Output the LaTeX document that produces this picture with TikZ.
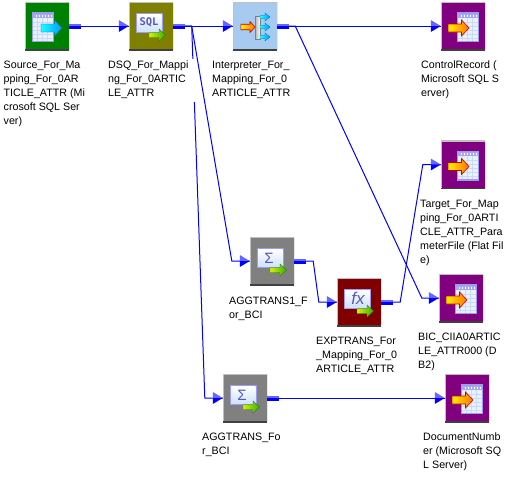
\documentclass[tikz,border=0pt]{standalone}
\usepackage{fontspec}
\setmainfont{Liberation Sans}
\newfontfamily\sqlfont{DejaVu Sans Mono}
\usetikzlibrary{calc}
\definecolor{wireblue}{HTML}{0000FF}
\definecolor{wirelite}{HTML}{6666FF}
\definecolor{pageedge}{HTML}{9C9CF0}
\definecolor{pagefill}{HTML}{E8F2FF}
\definecolor{gridc}{HTML}{C8DAF8}
\definecolor{headband}{HTML}{A8A8EC}
\definecolor{glyphc}{HTML}{5858B8}
\definecolor{panellow}{HTML}{CFE2FF}
\definecolor{greenl}{HTML}{D8F000}
\definecolor{greenr}{HTML}{38B000}
\definecolor{greend}{HTML}{208020}
\tikzset{
  tile/.style={rectangle,inner sep=0pt,minimum width=44pt,minimum height=48pt,
    path picture={
      \draw[line width=2pt,color={rgb,255:red,192;green,192;blue,192}]
        (path picture bounding box.south west)--(path picture bounding box.north west)--(path picture bounding box.north east);
      \draw[line width=2pt,color={rgb,255:red,64;green,64;blue,64}]
        (path picture bounding box.south west)--(path picture bounding box.south east);
      \draw[line width=1pt,color={rgb,255:red,64;green,64;blue,64}]
        (path picture bounding box.south east)--(path picture bounding box.north east);
    }},
  wire/.style={draw=wireblue,line width=1pt,line join=miter},
  caption/.style={anchor=north west,inner sep=0pt,align=left,
    font=\fontsize{10.7pt}{14pt}\selectfont},
  glyph/.style={inner sep=0pt,text=glyphc},
  page/.pic={
    \fill[pageedge] (-10.5,-15) rectangle (11.5,15);
    \fill[pagefill] (-9.5,-13.5) rectangle (10,13.5);
    \fill[headband] (-9.5,-13.5) rectangle (10,-9.5);
    \foreach \u in {-5,0,5} \draw[gridc,line width=.5pt] (\u,-9.5) -- (\u,13.5);
    \foreach \v in {-5,-1,3,7,11} \draw[gridc,line width=.5pt] (-9.5,\v) -- (10,\v);
    \foreach \u in {-7,-4,-1,2,5,8} \fill[white] (\u,-12.5) rectangle ++(1,2);
  },
  panel/.pic={
    \fill[pageedge] (-15,-13) rectangle (12,7);
    \shade[top color=white,bottom color=panellow] (-14,-12) rectangle (10.5,5.5);
  },
  gogreen/.pic={
    \shade[left color=greenl,right color=greenr,draw=greend,line width=.4pt]
      (-8,-2.5) -- (2,-2.5) -- (2,-6) -- (8.5,0) -- (2,6) -- (2,2.5) -- (-8,2.5) -- cycle;
  },
  gocyan/.pic={
    \shade[left color=cyan!90!white,right color=cyan!60!blue,draw=cyan!40!blue,line width=.4pt]
      (-10.5,-4) -- (3,-4) -- (3,-8) -- (10.5,0) -- (3,8) -- (3,4) -- (-10.5,4) -- cycle;
  },
  goorange/.pic={
    \shade[left color=yellow!90!orange,right color=orange!90!red,draw=red!80!black,line width=.6pt]
      (-10.5,-4) -- (3,-4) -- (3,-8) -- (10.5,0) -- (3,8) -- (3,4) -- (-10.5,4) -- cycle;
  },
  gotiny/.pic={
    \shade[left color=cyan!90!white,right color=cyan!60!blue,draw=cyan!40!blue,line width=.3pt]
      (-5,-1.8) -- (0,-1.8) -- (0,-4) -- (5,0) -- (0,4) -- (0,1.8) -- (-5,1.8) -- cycle;
  },
  sinkicon/.pic={
    \pic at (4.5,1) {page};
    \pic at (-4.5,2) {goorange};
  },
  sourceicon/.pic={
    \pic at (-4.5,1) {page};
    \pic at (4.5,2) {gocyan};
  },
}
\newcommand{\tail}[1]{%
  \fill[wirelite] ($(#1.east)+(0,-2.5)$) rectangle ($(#1.east)+(12,0)$);
  \fill[wireblue] ($(#1.east)+(0,0)$) rectangle ($(#1.east)+(12,2.8)$);}
\newcommand{\tip}[1]{%
  \fill[wirelite] ($(#1.west)+(-10,-6)$) -- ($(#1.west)$) -- ($(#1.west)+(-10,0)$) -- cycle;
  \fill[wireblue] ($(#1.west)+(-10,6)$) -- ($(#1.west)$) -- ($(#1.west)+(-10,0)$) -- cycle;}
\begin{document}
\begin{tikzpicture}[x=1pt,y=-1pt]
\useasboundingbox (0,0) rectangle (514,479);
\fill[white] (0,0) rectangle (514,479);

\node[tile,fill={rgb,255:red,0;green,128;blue,0}] (src) at (47,26) {};
\node[tile,fill={rgb,255:red,128;green,128;blue,0}] (dsq) at (151,26) {};
\node[tile,fill={rgb,255:red,166;green,202;blue,240}] (itp) at (255,26) {};
\node[tile,fill={rgb,255:red,128;green,0;blue,128}] (ctl) at (463,26) {};
\node[tile,fill={rgb,255:red,128;green,0;blue,128}] (tgt) at (463,164.5) {};
\node[tile,fill={rgb,255:red,128;green,0;blue,128}] (bic) at (461,298) {};
\node[tile,fill={rgb,255:red,128;green,128;blue,128}] (ag1) at (272,261) {};
\node[tile,fill={rgb,255:red,128;green,0;blue,0}] (exp) at (359,302) {};
\node[tile,fill={rgb,255:red,128;green,128;blue,128}] (agg) at (245,398) {};
\node[tile,fill={rgb,255:red,128;green,0;blue,128}] (doc) at (467,398) {};

\pic at (src) {sourceicon};
\pic at (ctl) {sinkicon};
\pic at (tgt) {sinkicon};
\pic at (bic) {sinkicon};
\pic at (doc) {sinkicon};

\pic at (dsq) {panel};
\node[glyph,font=\sqlfont\fontsize{10.5pt}{12pt}\selectfont\bfseries] (sqlt) at ($(dsq)+(-2,-4)$) {SQL};
\pic at ($(dsq)+(6,9)$) {gogreen};

\pic at (ag1) {panel};
\node[glyph,font=\fontsize{15pt}{15pt}\selectfont] (sg1) at ($(ag1)+(-3,-3)$) {Σ};
\pic at ($(ag1)+(6,9)$) {gogreen};

\pic at (agg) {panel};
\node[glyph,font=\fontsize{15pt}{15pt}\selectfont] (sg2) at ($(agg)+(-3,-3)$) {Σ};
\pic at ($(agg)+(6,9)$) {gogreen};

\pic at (exp) {panel};
\node[glyph,font=\fontsize{17pt}{17pt}\selectfont\itshape] (fxt) at ($(exp)+(-1,-4)$) {fx};
\pic at ($(exp)+(6,9)$) {gogreen};

% interpreter icon
\pic[scale=.68] at ($(itp)+(-7,1)$) {goorange};
\shade[left color=gray!60,right color=white,draw=gray,line width=.4pt] ($(itp)+(0,-10)$) rectangle ($(itp)+(5,13)$);
\pic at ($(itp)+(10,-9)$) {gotiny};
\pic at ($(itp)+(10,1)$) {gotiny};
\pic at ($(itp)+(10,11)$) {gotiny};

% connectors
\coordinate (dsqjoin) at ($(dsq.east)+(18.5,0)$);
\coordinate (itpjoin) at ($(itp.east)+(18,0)$);
\coordinate (ag1in) at ($(ag1.west)+(-18,0)$);
\coordinate (agin) at ($(agg.west)+(-18,0)$);
\coordinate (bicin) at ($(bic.west)+(-17,0)$);
\coordinate (tgtin) at ($(tgt.west)+(-18,0)$);
\coordinate (a1o) at ($(ag1.east)+(19,0)$);
\coordinate (exin) at ($(exp.west)+(-18,0)$);
\coordinate (exo) at ($(exp.east)+(19,0)$);

\draw[wire] (src.east) -- (dsq.west);
\draw[wire] (dsq.east) -- (itp.west);
\draw[wire] (itp.east) -- (ctl.west);
\draw[wire] (dsq.east) -- (dsqjoin) -- (ag1in) -- (ag1.west);
\draw[wire] (dsq.east) -- (dsqjoin) -- (agin) -- (agg.west);
\draw[wire] (itp.east) -- (itpjoin) -- (bicin) -- (bic.west);
\draw[wire] (ag1.east) -- (a1o) -- (exin) -- (exp.west);
\draw[wire] (exp.east) -- (exo) -- (tgtin) -- (tgt.west);
\draw[wire] (agg.east) -- (doc.west);

\tail{src}\tail{dsq}\tail{itp}\tail{ag1}\tail{exp}\tail{agg}
\tip{dsq}\tip{itp}\tip{ctl}\tip{ag1}\tip{exp}\tip{tgt}\tip{bic}\tip{agg}\tip{doc}

% labels
\fill[white] (107,59) rectangle (195,102);
\node[caption] (srcl) at (3.5,61) {Source\_For\_Ma\\pping\_For\_0AR\\TICLE\_ATTR (Mi\\crosoft SQL Ser\\ver)};
\node[caption] (dsql) at (108,61) {DSQ\_For\_Mappi\\ng\_For\_0ARTIC\\LE\_ATTR};
\node[caption] (itpl) at (212,61) {Interpreter\_For\_\\Mapping\_For\_0\\ARTICLE\_ATTR};
\node[caption] (ctll) at (421,61) {ControlRecord (\\Microsoft SQL S\\erver)};
\node[caption] (tgtl) at (420,200) {Target\_For\_Map\\ping\_For\_0ARTI\\CLE\_ATTR\_Para\\meterFile (Flat Fil\\e)};
\node[caption] (bicl) at (418,333) {BIC\_CIIA0ARTIC\\LE\_ATTR000 (D\\B2)};
\node[caption] (ag1l) at (229,297) {AGGTRANS1\_F\\or\_BCI};
\node[caption] (expl) at (316,337) {EXPTRANS\_For\\\_Mapping\_For\_0\\ARTICLE\_ATTR};
\node[caption] (aggl) at (202,433) {AGGTRANS\_Fo\\r\_BCI};
\node[caption] (docl) at (423,433) {DocumentNumb\\er (Microsoft SQ\\L Server)};
\end{tikzpicture}
\end{document}
